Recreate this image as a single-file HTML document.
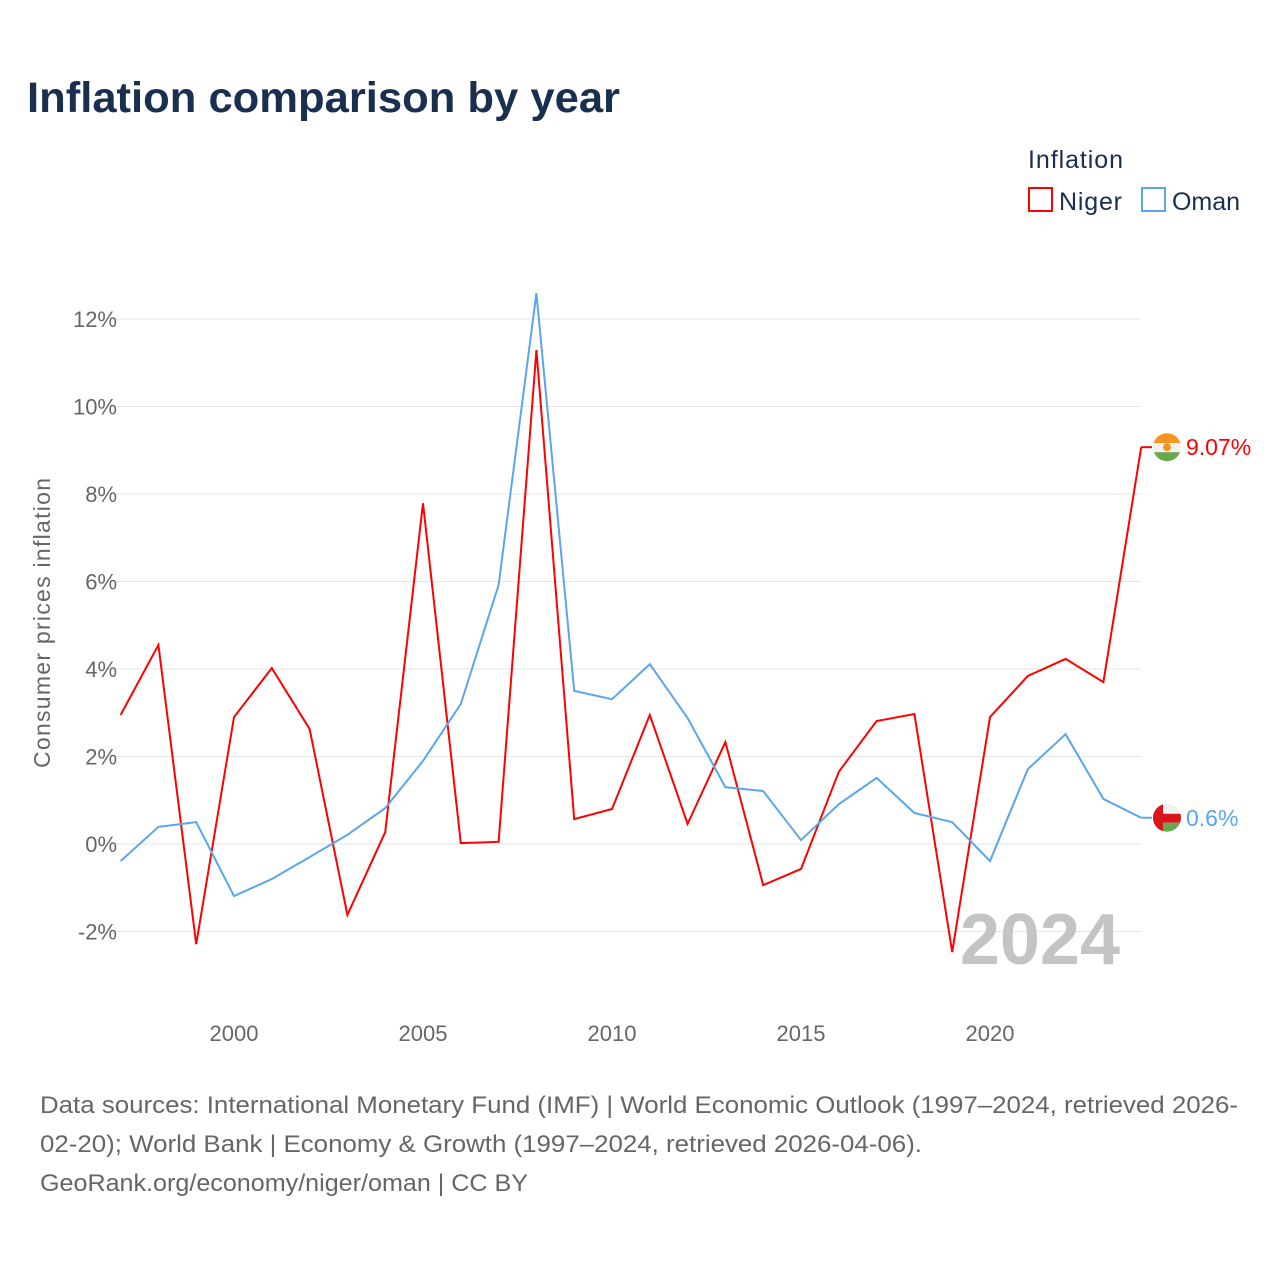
<!DOCTYPE html>
<html><head><meta charset="utf-8"><style>
body{margin:0;background:#fff;font-family:"Liberation Sans",sans-serif;}
</style></head><body>
<svg width="1280" height="1280" viewBox="0 0 1280 1280" xmlns="http://www.w3.org/2000/svg">
<rect width="1280" height="1280" fill="#fff"/>
<text x="27" y="112" font-size="43" font-weight="bold" fill="#1a2e4f" textLength="593" lengthAdjust="spacingAndGlyphs">Inflation comparison by year</text>
<text x="1028" y="168" font-size="25" fill="#1a2e4f" textLength="95">Inflation</text>
<g><rect x="1029" y="188" width="23" height="23" fill="none" stroke="#ff0000" stroke-width="2"/><text x="1059" y="210" font-size="25" fill="#1a2e4f" textLength="63">Niger</text></g>
<g><rect x="1142" y="188" width="23" height="23" fill="none" stroke="#5aa6ec" stroke-width="2"/><text x="1172" y="210" font-size="25" fill="#1a2e4f" textLength="68">Oman</text></g>
<g id="grid"></g>
<text transform="translate(50,623) rotate(-90)" text-anchor="middle" font-size="23" fill="#666" textLength="290">Consumer prices inflation</text>
<text x="1120" y="964" text-anchor="end" font-size="72" font-weight="bold" fill="#c4c4c4">2024</text>
<g id="series"></g>
<text x="40" y="1113" font-size="24" fill="#666" textLength="1198" lengthAdjust="spacingAndGlyphs">Data sources: International Monetary Fund (IMF) | World Economic Outlook (1997–2024, retrieved 2026-</text>
<text x="40" y="1152" font-size="24" fill="#666" textLength="882" lengthAdjust="spacingAndGlyphs">02-20); World Bank | Economy &amp; Growth (1997–2024, retrieved 2026-04-06).</text>
<text x="40" y="1191" font-size="24" fill="#666" textLength="488" lengthAdjust="spacingAndGlyphs">GeoRank.org/economy/niger/oman | CC BY</text>
</svg>
<script>
const years=[1997,1998,1999,2000,2001,2002,2003,2004,2005,2006,2007,2008,2009,2010,2011,2012,2013,2014,2015,2016,2017,2018,2019,2020,2021,2022,2023,2024];
const niger=[2.95,4.55,-2.29,2.9,4.02,2.63,-1.62,0.27,7.79,0.02,0.05,11.29,0.57,0.8,2.95,0.46,2.33,-0.94,-0.57,1.65,2.81,2.97,-2.47,2.9,3.84,4.23,3.7,9.07];
const oman=[-0.39,0.39,0.5,-1.19,-0.8,-0.3,0.21,0.82,1.9,3.2,5.92,12.59,3.5,3.31,4.11,2.88,1.3,1.21,0.09,0.91,1.51,0.71,0.5,-0.39,1.71,2.51,1.03,0.6];
const yTicks=[-2,0,2,4,6,8,10,12];
const xTicks=[2000,2005,2010,2015,2020];
const NS="http://www.w3.org/2000/svg";
const x=v=>120.6+(v-1997)*37.8;
const y=v=>844-v*43.75;
function mk(t,a,p){const e=document.createElementNS(NS,t);for(const k in a)e.setAttribute(k,a[k]);p.appendChild(e);return e;}
const g=document.getElementById('grid');
yTicks.forEach(t=>{
 const l=mk('line',{x1:110,x2:1141,y1:y(t),y2:y(t),stroke:'#e6e6e6','stroke-width':1},g);
 
 
 const tx=mk('text',{x:117,y:y(t)+8,'text-anchor':'end','font-size':22,fill:'#666'},g);
 tx.textContent=t+'%';
 
 
});
xTicks.forEach(t=>{
 const tx=mk('text',{x:x(t),y:1041,'text-anchor':'middle','font-size':22,fill:'#666'},g);
 tx.textContent=t;
 
 
});
const s=document.getElementById('series');
function line(d,c,name){
 const p=mk('polyline',{points:d.map((v,i)=>x(years[i])+','+y(v)).join(' '),fill:'none',stroke:c,'stroke-width':2,'stroke-linejoin':'miter'},s);
 
 
 const last=d[d.length-1];
 const ly=y(last);
 const seg=mk('line',{x1:x(2024),x2:1152,y1:ly,y2:ly,stroke:c,'stroke-width':2},s);
 
 
 const txt=mk('text',{x:1186,y:ly+8,'font-size':23,fill:c},s);
 txt.textContent=(name==='niger'?last.toFixed(2):last)+'%';
 
 
 return ly;
}
const ny=line(niger,'#ff0000','niger');
const oy=line(oman,'#5aa6ec','oman');
const fn=mk('g',{},s);


const cp1=mk('clipPath',{id:'c1'},fn);mk('circle',{cx:1167,cy:ny,r:14},cp1);
const gn=mk('g',{'clip-path':'url(#c1)'},fn);
mk('rect',{x:1153,y:ny-14,width:28,height:10,fill:'#f7941d'},gn);
mk('rect',{x:1153,y:ny-4,width:28,height:9,fill:'#f2f2f2'},gn);
mk('rect',{x:1153,y:ny+5,width:28,height:10,fill:'#6aa84f'},gn);
mk('circle',{cx:1167,cy:ny,r:4,fill:'#f7941d'},gn);
const fo=mk('g',{},s);


const cp=mk('clipPath',{id:'c2'},fo);mk('circle',{cx:1167,cy:oy,r:14},cp);
const go=mk('g',{'clip-path':'url(#c2)'},fo);
mk('rect',{x:1153,y:oy-14,width:28,height:10,fill:'#f2f2f2'},go);
mk('rect',{x:1153,y:oy-4,width:28,height:9,fill:'#db161b'},go);
mk('rect',{x:1153,y:oy+5,width:28,height:10,fill:'#6aa84f'},go);
mk('rect',{x:1153,y:oy-14,width:10,height:28,fill:'#db161b'},go);
</script>
</body></html>
